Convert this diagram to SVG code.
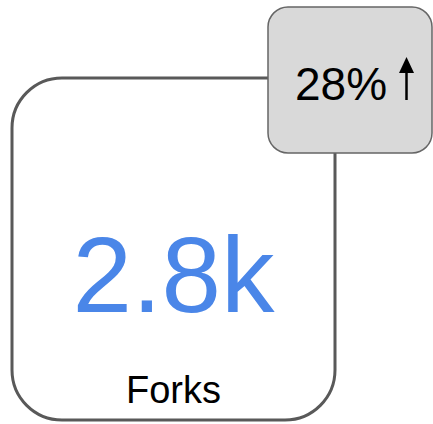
<svg xmlns="http://www.w3.org/2000/svg" width="433" height="424" viewBox="0 0 433 424">
  <style>
    .card { fill: #ffffff; stroke: #595959; stroke-width: 3; }
    .badge { fill: #d9d9d9; stroke: #666666; stroke-width: 1.5; }
    .value { font-family: "Liberation Sans", Arial, sans-serif; fill: #4a86e8; text-anchor: middle; }
    .label { font-family: "Liberation Sans", Arial, sans-serif; fill: #000000; text-anchor: middle; }
    .pct { font-family: "Liberation Sans", Arial, sans-serif; fill: #000000; }
  </style>
  <g id="connectors"></g>
  <g id="card">
    <rect class="card" x="12" y="78" width="323" height="342" rx="50" ry="50"/>
    <text class="value" x="173.5" y="312" font-size="107">2.8k</text>
    <text class="label" x="173.5" y="403" font-size="38">Forks</text>
  </g>
  <g id="badge">
    <rect class="badge" x="268" y="7" width="164" height="146" rx="20" ry="20"/>
    <text class="pct" x="295" y="100" font-size="46">28%</text>
    <line x1="406.5" y1="100" x2="406.5" y2="70" stroke="#000" stroke-width="2.5"/>
    <path d="M399,73 L406.5,57 L414,73 z" fill="#000"/>
  </g>
</svg>
